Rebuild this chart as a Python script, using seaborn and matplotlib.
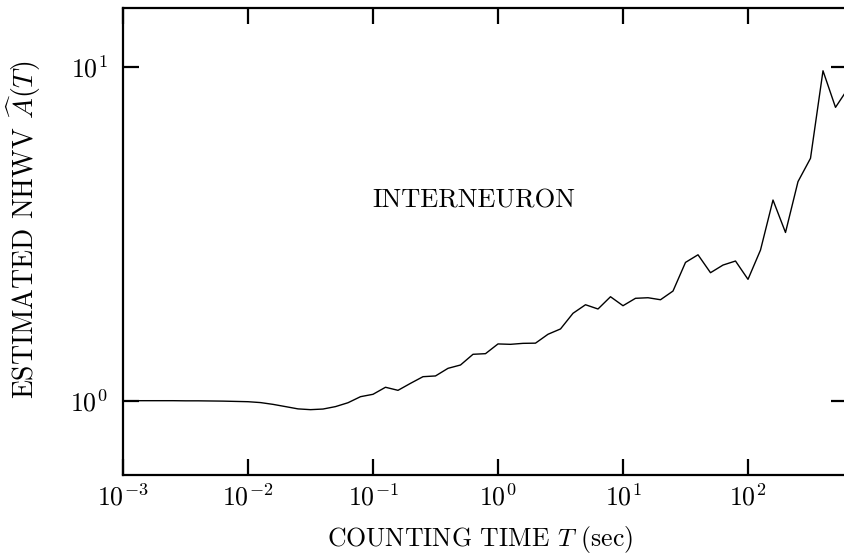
import numpy as np
import pandas as pd
import matplotlib
matplotlib.use("Agg")
import matplotlib.pyplot as plt
import matplotlib.ticker as mticker
import seaborn as sns

# log10 of the counting time T (sec), ten samples per decade
log_counting_time = [
    -3.0, -2.9, -2.8, -2.7, -2.6, -2.5, -2.4, -2.3, -2.2, -2.1,
    -2.0, -1.9, -1.8, -1.7, -1.6, -1.5, -1.4, -1.3, -1.2, -1.1,
    -1.0, -0.9, -0.8, -0.7, -0.6, -0.5, -0.4, -0.3, -0.2, -0.1,
    0.0, 0.1, 0.2, 0.3, 0.4, 0.5, 0.6, 0.7, 0.8, 0.9,
    1.0, 1.1, 1.2, 1.3, 1.4, 1.5, 1.6, 1.7, 1.8, 1.9,
    2.0, 2.1, 2.2, 2.3, 2.4, 2.5, 2.6, 2.7, 2.8,
]

# estimated normalized Haar wavelet variance A(T)
nhwv = [
    1.000, 1.000, 1.000, 1.000, 1.000, 0.999, 0.999, 0.998, 0.997, 0.995,
    0.993, 0.987, 0.975, 0.960, 0.945, 0.940, 0.944, 0.960, 0.986, 1.028,
    1.045, 1.097, 1.074, 1.127, 1.180, 1.186, 1.250, 1.279, 1.377, 1.383,
    1.479, 1.475, 1.485, 1.487, 1.581, 1.640, 1.827, 1.938, 1.882, 2.048,
    1.925, 2.026, 2.034, 2.006, 2.130, 2.595, 2.735, 2.417, 2.548, 2.620,
    2.309, 2.826, 3.990, 3.190, 4.530, 5.320, 9.730, 7.560, 8.610,
]

x_ticks = [1e-3, 1e-2, 1e-1, 1e0, 1e1, 1e2]
y_ticks = [1e0, 1e1]
panel_label = "INTERNEURON"

df = pd.DataFrame({
    "T": [10.0 ** e for e in log_counting_time],
    "A": nhwv,
})

sns.set_style("ticks")
plt.rcParams["font.family"] = ["cmr10", "DejaVu Serif"]
plt.rcParams["mathtext.fontset"] = "cm"
plt.rcParams["axes.formatter.use_mathtext"] = True
plt.rcParams["text.color"] = "black"
plt.rcParams["axes.labelcolor"] = "black"
plt.rcParams["xtick.color"] = "black"
plt.rcParams["ytick.color"] = "black"

fig = plt.figure(figsize=(8.45, 5.55), dpi=100)
ax = fig.add_axes([123 / 845, 80 / 555, (847 - 123) / 845, (475 - 8) / 555])

sns.lineplot(data=df, x="T", y="A", ax=ax, color="black", linewidth=1.0)

ax.set_xscale("log")
ax.set_yscale("log")
ax.set_xlim(1e-3, 10 ** 2.792)
ax.set_ylim(0.599, 15.0)

ax.xaxis.set_major_locator(mticker.FixedLocator(x_ticks))
ax.yaxis.set_major_locator(mticker.FixedLocator(y_ticks))
ax.xaxis.set_minor_locator(mticker.NullLocator())
ax.yaxis.set_minor_locator(mticker.NullLocator())
ax.xaxis.set_major_formatter(mticker.LogFormatterMathtext())
ax.yaxis.set_major_formatter(mticker.LogFormatterMathtext())

for side in ["top", "right", "left", "bottom"]:
    ax.spines[side].set_visible(True)
    ax.spines[side].set_linewidth(1.6)
    ax.spines[side].set_color("black")

ax.tick_params(axis="both", which="major", direction="in", length=11.5,
               width=1.6, top=True, right=True, labelsize=18.7,
               colors="black", labelcolor="black")
ax.tick_params(axis="x", pad=6)
ax.tick_params(axis="y", pad=11)

ax.set_xlabel(r"COUNTING TIME $T$ (sec)", fontsize=18.5, color="black")
ax.set_ylabel(r"ESTIMATED NHWV $\widehat{A}(T)$", fontsize=20, color="black")
ax.yaxis.set_label_coords(-(123 - 43) / (847 - 123), 0.525)
ax.xaxis.set_label_coords(0.5 - 5 / 724, -(524 - 475) / 467)

ax.text(0.643, 3.96, panel_label, ha="center", va="center", fontsize=19,
        color="black")

fig.savefig("out.png", dpi=100)
